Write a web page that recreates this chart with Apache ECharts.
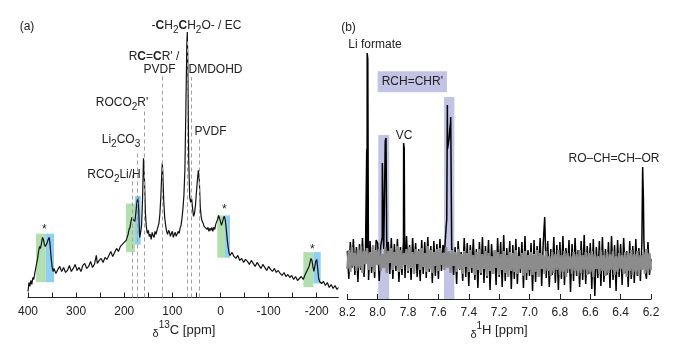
<!DOCTYPE html>
<html><head><meta charset="utf-8">
<script src="https://cdn.jsdelivr.net/npm/echarts@6/dist/echarts.min.js"></script>
<style>html,body{margin:0;padding:0;background:#fff}#c{width:686px;height:350px}</style>
</head><body><div id="c"></div>
<script>
// ---------- Panel (a): 13C spectrum ----------
const ppmA = [400,398,396,394,392,390,388,386,384,382,380,378,376,374,372,370,368,366,364,362,360,358,356,354,352,350,348,346,342,338,334,330,326,322,318,314,310,306,302,298,294,290,286,282,278,274,270,266,262,258,256,252,248,244,240,236,232,228,224,220,216,212,208,204,200,196,192,190,188,186,184,182,180,178,176,174,172,170,168,166,164,162,160,159,158,156,154,152,150,148,146,144,142,140,138,136,134,132,130,128,126,124,122,121,120,118,116,114,112,110,108,106,104,102,100,98,96,94,92,90,88,86,84,82,80,78,76,74,72,70,69,68,66,64,62,60,58,56,54,52,50,48,46,45,44,42,40,38,36,34,32,30,28,26,24,22,20,18,16,14,12,10,8,6,4,2,0,-2,-4,-6,-8,-10,-12,-14,-16,-18,-20,-24,-28,-32,-36,-40,-44,-48,-52,-56,-60,-64,-68,-72,-76,-80,-84,-88,-92,-96,-100,-104,-108,-112,-116,-120,-124,-128,-132,-136,-140,-144,-148,-152,-156,-160,-164,-168,-172,-176,-180,-184,-186,-188,-190,-192,-194,-196,-198,-200,-202,-204,-206,-210,-214,-218,-222,-226,-230,-234,-238,-242,-245];
const intA = [6,15,11,17,13,20,18,24,29,34,39,46,51,49,54,60,58,53,51,50,55,58,60,52,40,31,26,29,24,28,31,26,30,25,27,32,26,29,33,27,30,26,32,34,29,31,36,30,33,42,34,37,39,35,40,38,42,46,41,45,49,46,51,50,55,57,63,68,70,76,80,78,77,76,84,94,100,88,60,65,72,98,139,140,118,84,70,64,67,61,63,58,65,62,60,66,63,67,68,74,83,100,124,134,127,97,80,72,66,63,67,65,61,64,66,60,63,65,61,62,66,64,69,72,79,89,102,127,187,252,265,237,137,100,95,99,89,81,84,92,105,117,127,126,117,90,80,76,74,71,70,72,68,70,66,69,67,70,66,70,68,73,72,78,82,79,76,72,75,79,81,77,68,58,50,44,42,45,41,39,42,37,39,35,38,36,33,37,34,31,35,32,29,33,30,27,31,28,26,29,25,27,24,22,25,21,23,20,22,18,21,17,19,21,18,23,27,31,35,39,37,31,26,31,36,38,29,19,16,14,16,12,15,10,13,9,12,8,10];
const tickA = [400,300,200,100,0,-100,-200];
const tickMinorA = [400,350,300,250,200,150,100,50,0,-50,-100,-150,-200];
// reference dashed lines: position (ppm) and height
const dashPpm = [184,172,159,120,70,60,45];
const dashTop = [122,147,189,221,257,220,159];
// shaded side-band boxes (green then blue)
const boxFrom = [383.4,363.2,196.3,177.6,6.6,-9.4,-172.1,-192.9];
const boxTo   = [363.2,346.0,177.6,165.8,-9.4,-19.8,-192.9,-208.3];
const boxLow  = [15.3,15.3,45.3,52.7,39.7,39.7,10.3,14.0];
const boxHigh = [63.7,63.7,93.7,101.3,82.0,82.0,45.3,45.3];
const boxKind = ['g','b','g','b','g','b','g','b'];

// ---------- Panel (b): 1H spectra ----------
const ppmB = [8.20,8.19,8.18,8.17,8.16,8.15,8.14,8.13,8.12,8.11,
8.10,8.09,8.08,8.07,8.06,8.05,8.04,8.03,8.02,8.01,
8.00,7.99,7.98,7.97,7.96,7.95,7.94,7.93,7.92,7.91,
7.90,7.89,7.88,7.87,7.86,7.85,7.84,7.83,7.82,7.81,
7.80,7.79,7.78,7.77,7.76,7.75,7.74,7.73,7.72,7.71,
7.70,7.69,7.68,7.67,7.66,7.65,7.64,7.63,7.62,7.61,
7.60,7.59,7.58,7.57,7.56,7.55,7.54,7.53,7.52,7.51,
7.50,7.49,7.48,7.47,7.46,7.45,7.44,7.43,7.42,7.41,
7.40,7.39,7.38,7.37,7.36,7.35,7.34,7.33,7.32,7.31,
7.30,7.29,7.28,7.27,7.26,7.25,7.24,7.23,7.22,7.21,
7.20,7.19,7.18,7.17,7.16,7.15,7.14,7.13,7.12,7.11,
7.10,7.09,7.08,7.07,7.06,7.05,7.04,7.03,7.02,7.01,
7.00,6.99,6.98,6.97,6.96,6.95,6.94,6.93,6.92,6.91,
6.90,6.89,6.88,6.87,6.86,6.85,6.84,6.83,6.82,6.81,
6.80,6.79,6.78,6.77,6.76,6.75,6.74,6.73,6.72,6.71,
6.70,6.69,6.68,6.67,6.66,6.65,6.64,6.63,6.62,6.61,
6.60,6.59,6.58,6.57,6.56,6.55,6.54,6.53,6.52,6.51,
6.50,6.49,6.48,6.47,6.46,6.45,6.44,6.43,6.42,6.41,
6.40,6.39,6.38,6.37,6.36,6.35,6.34,6.33,6.32,6.31,
6.30,6.29,6.28,6.27,6.26,6.25,6.24,6.23,6.22,6.21,
6.20];
const blackB = [48,20,57,31,60,24,52,17,55,29,
61,22,50,50,19,58,26,54,21,59,
56,18,53,62,50,158,45,57,25,61,
20,55,28,60,17,52,24,58,21,63,
26,54,19,61,30,56,22,50,18,59,
25,57,21,62,27,53,16,58,23,55,
20,60,28,54,46,70,150,160,176,50,
24,52,15,58,29,47,18,61,22,56,
13,54,26,60,19,50,11,57,24,62,
16,53,21,59,9,55,27,48,14,61,
22,57,12,64,18,51,25,58,10,54,
20,60,15,52,26,57,11,63,19,49,
23,56,8,59,17,53,28,61,13,55,
82,21,58,12,50,24,62,16,54,9,
57,20,63,14,51,26,59,7,55,18,
61,23,49,12,58,19,64,15,53,25,
56,10,60,3,52,21,58,13,62,17,
50,24,57,11,63,19,54,8,59,22,
55,14,61,26,48,12,58,20,53,16,
60,23,51,18,56,100,30,20,57,24,
40];
const greyB = [30,49,27,52,33,46,28,50,31,53,
26,48,35,51,29,47,32,54,27,49,
34,50,28,45,31,52,26,48,36,51,
29,47,33,53,27,49,30,46,34,50,
28,52,31,47,25,50,35,48,29,51,
32,46,27,53,30,49,26,47,33,50,
28,51,34,46,29,52,31,48,26,49,
33,47,27,50,30,45,25,48,32,46,
27,49,31,44,24,47,29,50,26,45,
30,48,23,46,28,43,25,49,31,47,
24,45,29,48,26,44,22,47,28,46,
27,49,25,43,30,46,23,48,26,44,
29,47,24,45,27,49,22,46,30,44,
25,48,28,43,23,47,26,45,29,49,
24,44,27,48,22,46,30,43,25,47,
28,45,23,49,26,44,29,47,24,46,
27,48,22,45,30,43,25,49,28,44,
23,47,26,45,29,48,24,43,27,46,
30,44,25,47,22,46,28,49,24,45,
27,48,23,44,29,47,25,50,26,46,
29];
const peakPpmB = [8.072,8.069,8.065,8.061,7.969,7.962,7.945,7.938,7.829,7.825,7.822,7.545,7.541,7.535,7.525,7.519,7.512,6.255,6.251,6.247];
const peakValB = [150,246,240,40,136,60,161,50,156,150,40,80,194,150,170,182,40,132,130,60];
const tickB = [8.2,8.0,7.8,7.6,7.4,7.2,7.0,6.8,6.6,6.4,6.2];
const lavFrom = [7.996,7.563];
const lavTo   = [7.924,7.495];
const lavTop  = [164,202];

// ---------- build ----------
const FF = "'Liberation Sans', Arial, sans-serif";
const TXT = '#222';
const dataA = ppmA.map((p,i)=>[p,intA[i]]);
const dataBlack = ppmB.map((p,i)=>[p,blackB[i]]).concat(peakPpmB.map((p,i)=>[p,peakValB[i]])).sort((a,b)=>b[0]-a[0]);
const dataGrey = ppmB.map((p,i)=>[p,greyB[i]]);

const boxColor = {g:'#b3dfae', b:'#8fd0f2'};
const areasA = boxFrom.map((f,i)=>[{coord:[f,boxLow[i]], itemStyle:{color:boxColor[boxKind[i]]}},{coord:[boxTo[i],boxHigh[i]]}]);
const dashLines = dashPpm.map((p,i)=>[{coord:[p,0]},{coord:[p,dashTop[i]]}]);
const areasB = lavFrom.map((f,i)=>[{coord:[f,0], itemStyle:{color:'#c3c3e6'}},{coord:[lavTo[i],lavTop[i]]}]);

function rs(size, extra){ return Object.assign({fontSize:size, fontFamily:FF, fill:TXT, lineHeight:19}, extra||{}); }
const RICH = {
  n: rs(12),
  b: rs(12,{fontWeight:'bold'}),
  s: rs(10,{lineHeight:11, verticalAlign:'bottom'}),
  N: rs(13),
  p: rs(10,{lineHeight:11, verticalAlign:'top'}),
  d: rs(11,{lineHeight:13, verticalAlign:'bottom'})
};
function T(x,y,text,extra){
  return {type:'text', x:x, y:y, silent:true, z:50, style:Object.assign({text:text, rich:RICH, fontSize:12, fontFamily:FF, fill:TXT, align:'center', verticalAlign:'middle', lineHeight:19}, extra||{})};
}

const chart = echarts.init(document.getElementById('c'), null, {renderer:'canvas'});
chart.setOption({
  animation:false,
  backgroundColor:'#fff',
  grid:[
    {left:28, right:347.6, top:30, bottom:52.5, outerBoundsMode:'none'},
    {left:347.3, right:35, top:30, bottom:51, outerBoundsMode:'none'}
  ],
  xAxis:[
    {type:'value', gridIndex:0, inverse:true, min:-245, max:400,
     axisLine:{show:true, lineStyle:{color:'#222', width:1}},
     axisTick:{show:true, inside:true, length:5, customValues:tickMinorA, lineStyle:{color:'#222'}},
     axisLabel:{customValues:tickA, fontSize:12, fontFamily:FF, color:TXT, margin:8},
     splitLine:{show:false}},
    {type:'value', gridIndex:1, inverse:true, min:6.2, max:8.2,
     axisLine:{show:true, lineStyle:{color:'#222', width:1}},
     axisTick:{show:true, inside:true, length:5, customValues:tickB, lineStyle:{color:'#222'}},
     axisLabel:{customValues:tickB, fontSize:12, fontFamily:FF, color:TXT, margin:8, formatter:v=>v.toFixed(1)},
     splitLine:{show:false}}
  ],
  yAxis:[
    {type:'value', gridIndex:0, min:0, max:267, show:false},
    {type:'value', gridIndex:1, min:0, max:269, show:false}
  ],
  series:[
    {type:'line', xAxisIndex:0, yAxisIndex:0, data:[], z:1, silent:true,
     markArea:{silent:true, data:areasA},
     markLine:{silent:true, symbol:['none','none'], label:{show:false}, lineStyle:{type:[4,3], color:'#a0a0a0', width:1}, data:dashLines}},
    {type:'line', xAxisIndex:0, yAxisIndex:0, data:dataA, z:3, showSymbol:false, silent:true,
     lineStyle:{color:'#111', width:1.2}},
    {type:'line', xAxisIndex:1, yAxisIndex:1, data:[], z:1, silent:true,
     markArea:{silent:true, data:areasB}},
    {type:'line', xAxisIndex:1, yAxisIndex:1, data:dataBlack, z:3, showSymbol:false, silent:true,
     lineStyle:{color:'#000', width:1.5}},
    {type:'line', xAxisIndex:1, yAxisIndex:1, data:dataGrey, z:4, showSymbol:false, silent:true,
     lineStyle:{color:'#8c8c8c', width:2.4}}
  ],
  graphic:[
    T(27,27,'(a)'),
    T(196.5,26,'{n|-}{b|C}{n|H}{s|2}{b|C}{n|H}{s|2}{n|O- / EC}'),
    T(154,57,"{n|R}{b|C}{n|=}{b|C}{n|R' /}"),
    T(159.5,70,'PVDF'),
    T(215.5,70,'DMDOHD'),
    T(122,103,"{n|ROCO}{s|2}{n|R'}"),
    T(210.5,132,'PVDF'),
    T(121,140,'{n|Li}{s|2}{n|CO}{s|3}'),
    T(114,175,'{n|RCO}{s|2}{n|Li/H}'),
    T(44.3,230,'*'),
    T(224.3,210,'*'),
    T(312.3,249.7,'*'),
    T(184,330,'{d|δ}{p|13}{N|C [ppm]}'),
    T(348.5,27.7,'(b)'),
    T(375,44.3,'Li formate'),
    T(404,135.7,'VC'),
    T(614,159,'RO–CH=CH–OR'),
    T(412.3,81.7,"RCH=CHR'",{backgroundColor:'#c3c3e6', padding:[1,4,1,4]}),
    T(499,330.7,'{d|δ}{p|1}{N|H [ppm]}')
  ]
});
</script></body></html>
